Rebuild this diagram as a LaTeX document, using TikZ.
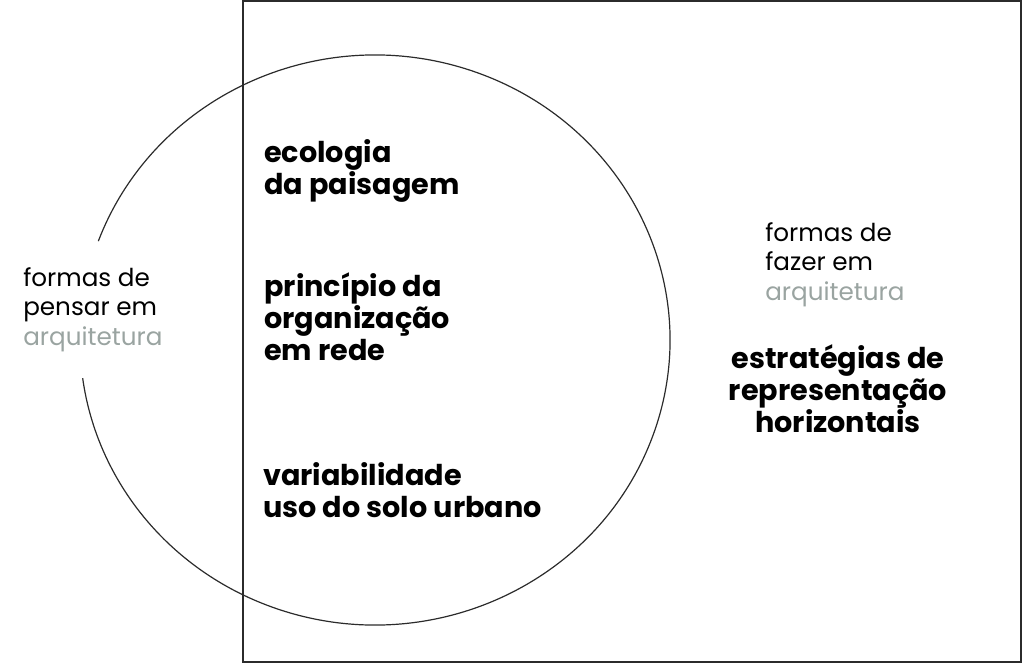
\documentclass[tikz,border=0pt]{standalone}
\usepackage{fontspec}
\setmainfont{Poppins}
\definecolor{ARCHgrey}{HTML}{9AA4A1}
\definecolor{LINEdark}{HTML}{2B2B2B}

\begin{document}
\begin{tikzpicture}[
    x=0.75pt, y=-0.75pt,
    frame/.style={draw=LINEdark, line width=1.1pt},
    ring/.style={draw=LINEdark, line width=0.9pt},
    thin text/.style={font=\fontsize{18.5}{22}\selectfont, align=left, inner sep=0pt, anchor=base west},
    bold text/.style={font=\bfseries\fontsize{21.5}{24}\selectfont, align=left, inner sep=0pt, anchor=base west}
  ]
    \useasboundingbox (0,0) rectangle (1024,664);
    \draw[frame] (243,1) rectangle (1021,662);
    \coordinate (ctr) at (375,340);
    \draw[ring] ([shift={(200.3:295 and 285)}]ctr)
      arc[start angle=200.3, end angle=532.3, x radius=295, y radius=285];
    % base anchor = baseline of the last line
    \node[thin text] (pensar) at (23,345) {formas de\\pensar em\\\textcolor{ARCHgrey}{arquitetura}};
    \node[thin text] (fazer) at (765,300) {formas de\\fazer em\\\textcolor{ARCHgrey}{arquitetura}};
    \node[bold text] (ecologia) at (264,194) {ecologia\\da paisagem};
    \node[bold text] (principio) at (264,360) {princípio da\\organização\\em rede};
    \node[bold text] (uso) at (263,517) {variabilidade\\uso do solo urbano};
    \node[bold text, align=center, anchor=base] (estrategias) at (838,432) {estratégias de\\representação\\horizontais};
  \end{tikzpicture}
\end{document}
